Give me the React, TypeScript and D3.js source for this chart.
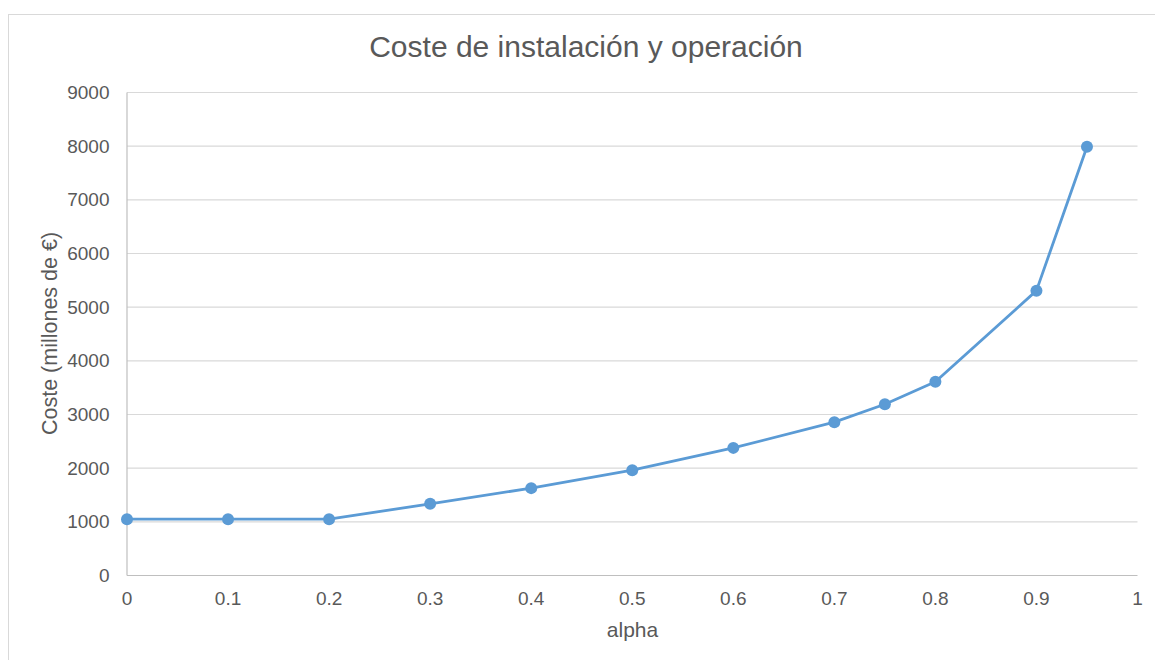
import React from "react";
import * as d3 from "d3";

const alphaValues = [0, 0.1, 0.2, 0.3, 0.4, 0.5, 0.6, 0.7, 0.75, 0.8, 0.9, 0.95];
const costValues = [1050, 1050, 1050, 1335, 1628, 1963, 2378, 2857, 3190, 3610, 5308, 7990];
const xTicks = [0, 0.1, 0.2, 0.3, 0.4, 0.5, 0.6, 0.7, 0.8, 0.9, 1];
const yTicks = [0, 1000, 2000, 3000, 4000, 5000, 6000, 7000, 8000, 9000];

const W = 1155;
const H = 660;
const left = 127;
const right = 1137.5;
const top = 92.5;
const bottom = 575.5;
const font = "'Liberation Sans', Arial, sans-serif";
const textColor = "#595959";

export default function App() {
  const x = d3.scaleLinear().domain([0, 1]).range([left, right]);
  const y = d3.scaleLinear().domain([0, 9000]).range([bottom, top]);
  const pts = alphaValues.map((a, i) => [a, costValues[i]] as [number, number]);
  const line = d3
    .line<[number, number]>()
    .x((d) => x(d[0]))
    .y((d) => y(d[1]));

  return (
    <svg
      width={W}
      height={H}
      style={{ position: "absolute", left: 0, top: 0, background: "#fff" }}
    >
      <rect x={8.5} y={14.5} width={W + 10} height={H + 10} fill="#fff" stroke="#D9D9D9" strokeWidth={1} />
      <text
        x={586}
        y={57}
        textAnchor="middle"
        fontFamily={font}
        fontSize={30}
        fill={textColor}
      >
        Coste de instalación y operación
      </text>
      {yTicks.map((t) =>
        t === 0 ? null : (
          <line key={t} x1={left} x2={right} y1={y(t)} y2={y(t)} stroke="#D9D9D9" strokeWidth={1.2} />
        )
      )}
      <line x1={left} x2={left} y1={top} y2={bottom} stroke="#BFBFBF" strokeWidth={1.2} />
      <line x1={left} x2={right} y1={bottom} y2={bottom} stroke="#BFBFBF" strokeWidth={1.2} />
      {yTicks.map((t) => (
        <text
          key={t}
          x={109.5}
          y={y(t)}
          dy="0.35em"
          textAnchor="end"
          fontFamily={font}
          fontSize={19}
          fill={textColor}
        >
          {t}
        </text>
      ))}
      {xTicks.map((t) => (
        <text
          key={t}
          x={x(t)}
          y={604.5}
          textAnchor="middle"
          fontFamily={font}
          fontSize={19}
          fill={textColor}
        >
          {t}
        </text>
      ))}
      <text x={632.5} y={637} textAnchor="middle" fontFamily={font} fontSize={21} fill={textColor}>
        alpha
      </text>
      <text
        transform={`translate(56.5, 333.5) rotate(-90)`}
        textAnchor="middle"
        fontFamily={font}
        fontSize={21.5}
        fill={textColor}
      >
        Coste (millones de €)
      </text>
      <path d={line(pts) || ""} fill="none" stroke="#5B9BD5" strokeWidth={2.8} strokeLinejoin="round" />
      {pts.map((p, i) => (
        <circle key={i} cx={x(p[0])} cy={y(p[1])} r={6} fill="#5B9BD5" />
      ))}
    </svg>
  );
}
